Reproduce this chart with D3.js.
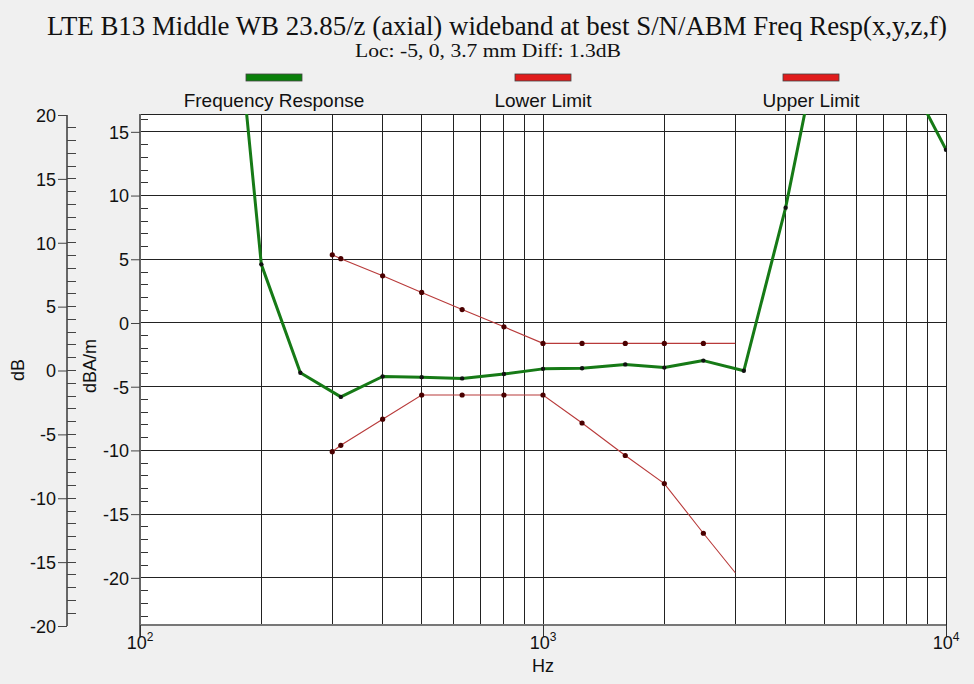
<!DOCTYPE html>
<html>
<head>
<meta charset="utf-8">
<script src="https://cdn.jsdelivr.net/npm/d3@7/dist/d3.min.js"></script>
<style>
  html, body { margin: 0; padding: 0; background: #f0f0f0; }
  svg { display: block; }
  .sans { font-family: "Liberation Sans", Arial, sans-serif; }
  .serif { font-family: "Liberation Serif", "Times New Roman", serif; }
</style>
</head>
<body>
<svg id="chart" width="974" height="684"></svg>
<script>
// Measured frequency response (dBA/m) at 1/3-octave centre frequencies
const respFreq = [160, 200, 250, 315, 400, 500, 630, 800, 1000, 1250, 1600, 2000, 2500, 3150, 4000, 5000, 6300, 8000, 10000];
const respValue = [36, 4.6, -3.9, -5.8, -4.2, -4.25, -4.35, -4.0, -3.6, -3.55, -3.25, -3.5, -2.95, -3.75, 9.05, 24.2, 23, 19.5, 13.6];

// Mask limits
const limitFreq = [300, 315, 400, 500, 630, 800, 1000, 1250, 1600, 2000, 2500, 3000];
const upperValue = [5.35, 5.05, 3.7, 2.4, 1.05, -0.3, -1.6, -1.6, -1.6, -1.6, -1.6, -1.6];
const lowerValue = [-10.1, -9.6, -7.55, -5.65, -5.65, -5.65, -5.65, -7.85, -10.4, -12.6, -16.5, -19.6];

// Axis ticks
const outerTicks = [20, 15, 10, 5, 0, -5, -10, -15, -20];
const innerTicks = [15, 10, 5, 0, -5, -10, -15, -20];
const decadeTicks = [100, 1000, 10000];
const decadeExp = ["2", "3", "4"];
const gridFreq = [200, 300, 400, 500, 600, 700, 800, 900, 1000, 2000, 3000, 4000, 5000, 6000, 7000, 8000, 9000];

const legendItems = ["Frequency Response", "Lower Limit", "Upper Limit"];
const titleText = "LTE B13 Middle WB 23.85/z (axial) wideband at best S/N/ABM Freq Resp(x,y,z,f)";
const subtitleText = "Loc: -5, 0, 3.7 mm Diff: 1.3dB";

const svg = d3.select("#chart");
const L = 140, R = 946, T = 114, B = 625;

const x = d3.scaleLog().domain([100, 10000]).range([L, R]);
const y = d3.scaleLinear().domain([-23.7, 16.4]).range([B, T]);
const yOuter = d3.scaleLinear().domain([-20, 20]).range([626, 115]);
const fmt = d => String(d); // plain hyphen-minus

// Titles
svg.append("text").attr("class", "serif")
  .attr("x", 497).attr("y", 35).attr("text-anchor", "middle")
  .attr("font-size", 27).attr("fill", "#111")
  .attr("textLength", 900).attr("lengthAdjust", "spacingAndGlyphs")
  .text(titleText);
svg.append("text").attr("class", "serif")
  .attr("x", 488).attr("y", 57).attr("text-anchor", "middle")
  .attr("font-size", 19).attr("fill", "#111")
  .attr("textLength", 266).attr("lengthAdjust", "spacingAndGlyphs")
  .text(subtitleText);

// Legend
const legendX = [274, 543, 811];
const legendColor = ["#0a800a", "#e01c1c", "#e01c1c"];
legendItems.forEach((name, i) => {
  svg.append("rect")
    .attr("x", legendX[i] - 28).attr("y", 74).attr("width", 56).attr("height", 7)
    .attr("fill", legendColor[i]).attr("stroke", "#444").attr("stroke-width", 0.8);
  svg.append("text").attr("class", "sans")
    .attr("x", legendX[i]).attr("y", 107).attr("text-anchor", "middle")
    .attr("font-size", 19).attr("fill", "#111")
    .text(name);
});

// Plot background
svg.append("rect").attr("x", L).attr("y", T).attr("width", R - L).attr("height", B - T).attr("fill", "#fff");

// Grid
const grid = svg.append("g");
grid.selectAll("line.v").data(gridFreq).join("line")
  .attr("x1", d => x(d)).attr("x2", d => x(d)).attr("y1", T).attr("y2", B)
  .attr("stroke", "#222").attr("stroke-width", 1).attr("shape-rendering", "crispEdges");
grid.selectAll("line.h").data(innerTicks).join("line")
  .attr("x1", L).attr("x2", R).attr("y1", d => y(d)).attr("y2", d => y(d))
  .attr("stroke", "#222").attr("stroke-width", 1).attr("shape-rendering", "crispEdges");

// Inner minor ticks
const innerMinor = d3.range(-23, 17).filter(v => v % 5 !== 0);
svg.append("g").selectAll("line").data(innerMinor).join("line")
  .attr("x1", L).attr("x2", L + 8).attr("y1", d => y(d)).attr("y2", d => y(d))
  .attr("stroke", "#333").attr("shape-rendering", "crispEdges");

// Plot frame: top and right in black
svg.append("line").attr("x1", L).attr("x2", R).attr("y1", T).attr("y2", T).attr("stroke", "#222").attr("shape-rendering", "crispEdges");
svg.append("line").attr("x1", R).attr("x2", R).attr("y1", T).attr("y2", B).attr("stroke", "#222").attr("shape-rendering", "crispEdges");

// Inner axis (dBA/m)
const innerAxis = svg.append("g").attr("class", "sans").attr("transform", `translate(${L},0)`)
  .call(d3.axisLeft(y).tickValues(innerTicks).tickSize(9).tickFormat(fmt));
innerAxis.select(".domain").attr("d", `M0,${T}V${B + 12}`).attr("stroke", "#666").attr("stroke-width", 2);
innerAxis.selectAll(".tick line").attr("stroke", "#444");
innerAxis.selectAll(".tick text").attr("font-size", 18).attr("fill", "#111").attr("x", -11).attr("dy", "0.35em");

// Outer axis (dB)
const OX = 67;
const outerAxis = svg.append("g").attr("class", "sans").attr("transform", `translate(${OX},0)`)
  .call(d3.axisLeft(yOuter).tickValues(outerTicks).tickSize(9).tickFormat(fmt));
outerAxis.select(".domain").attr("d", `M0,${yOuter(20)}V${yOuter(-20)}`).attr("stroke", "#666").attr("stroke-width", 2);
outerAxis.selectAll(".tick line").attr("stroke", "#444");
outerAxis.selectAll(".tick text").attr("font-size", 18).attr("fill", "#111").attr("x", -11).attr("dy", "0.35em");
const outerMinor = d3.range(-19, 20).filter(v => v % 5 !== 0);
const outerRightTicks = outerTicks.filter(v => Math.abs(v) !== 20);
svg.append("g").selectAll("line").data(outerMinor.concat(outerRightTicks)).join("line")
  .attr("x1", OX).attr("x2", OX + 9).attr("y1", d => yOuter(d)).attr("y2", d => yOuter(d))
  .attr("stroke", "#444").attr("shape-rendering", "crispEdges");

// Bottom axis
svg.append("line").attr("x1", L).attr("x2", R).attr("y1", B).attr("y2", B)
  .attr("stroke", "#777").attr("stroke-width", 2);
svg.append("g").selectAll("line").data(decadeTicks).join("line")
  .attr("x1", d => x(d)).attr("x2", d => x(d)).attr("y1", B).attr("y2", B + 12)
  .attr("stroke", "#333").attr("shape-rendering", "crispEdges");
const decLabels = svg.append("g").attr("class", "sans").selectAll("text").data(decadeTicks).join("text")
  .attr("x", d => x(d)).attr("y", 649).attr("text-anchor", "middle")
  .attr("font-size", 18).attr("fill", "#111");
decLabels.append("tspan").text("10");
decLabels.append("tspan").attr("dy", -8).attr("font-size", 12).text((d, i) => decadeExp[i]);

svg.append("text").attr("class", "sans").attr("x", x(1000)).attr("y", 672)
  .attr("text-anchor", "middle").attr("font-size", 18).attr("fill", "#111").text("Hz");

// Axis titles
svg.append("text").attr("class", "sans").attr("transform", "translate(24,370) rotate(-90)")
  .attr("text-anchor", "middle").attr("font-size", 18).attr("fill", "#111").text("dB");
svg.append("text").attr("class", "sans").attr("transform", "translate(96,366) rotate(-90)")
  .attr("text-anchor", "middle").attr("font-size", 18).attr("fill", "#111").text("dBA/m");

// Data
svg.append("clipPath").attr("id", "plotClip").append("rect")
  .attr("x", L).attr("y", T).attr("width", R - L + 1).attr("height", B - T);
const plot = svg.append("g").attr("clip-path", "url(#plotClip)");

const line = d3.line().x(d => x(d[0])).y(d => y(d[1]));
const resp = respFreq.map((f, i) => [f, respValue[i]]);
const upper = limitFreq.map((f, i) => [f, upperValue[i]]);
const lower = limitFreq.map((f, i) => [f, lowerValue[i]]);

[upper, lower].forEach(series => {
  plot.append("path").datum(series).attr("d", line)
    .attr("fill", "none").attr("stroke", "#b83a3a").attr("stroke-width", 1.1);
  plot.append("g").selectAll("circle").data(series.slice(0, -1)).join("circle")
    .attr("cx", d => x(d[0])).attr("cy", d => y(d[1])).attr("r", 2.6)
    .attr("fill", "#4a0000");
});

plot.append("path").datum(resp).attr("d", line)
  .attr("fill", "none").attr("stroke", "#167a16").attr("stroke-width", 3)
  .attr("stroke-linejoin", "round");
plot.append("g").selectAll("circle").data(resp).join("circle")
  .attr("cx", d => x(d[0])).attr("cy", d => y(d[1])).attr("r", 2.2)
  .attr("fill", "#111");
</script>
</body>
</html>
